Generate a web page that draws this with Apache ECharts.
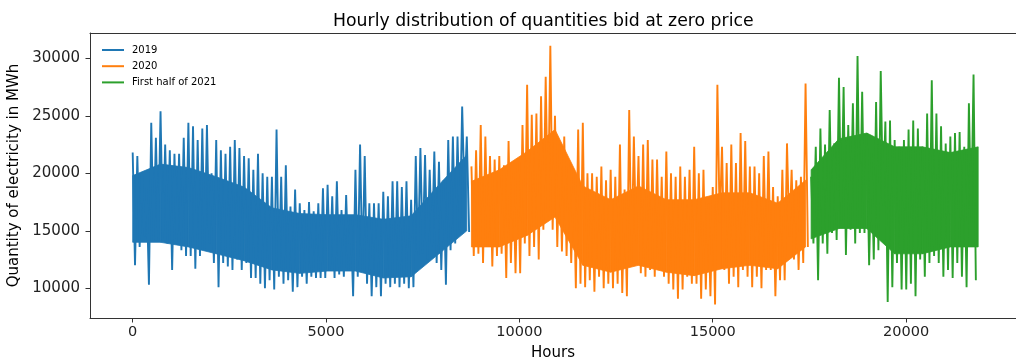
<!DOCTYPE html>
<html>
<head>
<meta charset="utf-8">
<script src="https://cdn.jsdelivr.net/npm/echarts@6/dist/echarts.min.js"></script>
<style>
html,body{margin:0;padding:0;background:#fff;}
#chart{width:1016px;height:360px;}
</style>
</head>
<body>
<div id="chart"></div>
<script>
// ---- data ----
// Spikes: per 120-hour column, upper and lower extent of the trace
const STEP_HOURS = 120;
// Dense core: per 720-hour block, lower and upper edge of the solid band
const CORE_STEP_HOURS = 720;
const start2019 = 0;
const start2020 = 8760;
const start2021 = 17544;

const hi2019 = [21800,21500,20000,18800,24400,23100,25400,22500,22000,21700,21700,23100,24400,24100,22900,23900,24200,20000,22900,22000,21700,22300,22900,22200,21500,21300,20300,21700,20000,19700,19700,23800,19700,20700,17100,18600,17400,16800,17500,16700,17400,18700,19000,18000,19300,16800,18100,16200,20300,22500,21500,17400,17400,17400,18400,18000,19300,19300,18800,19300,17700,21500,22200,21600,20300,21900,21000,19400,22900,23200,23200,25800,23200];
const lo2019 = [12000,13600,14500,10300,14200,14200,14200,13900,11600,13900,13300,12800,12800,11700,12800,13300,13900,12200,10100,12200,11900,11600,12500,11600,12200,10900,10900,10400,10000,10700,9900,11000,10400,10700,9700,10100,11000,10400,11000,10900,10900,10900,11600,10900,11200,11000,11600,9300,11000,11600,10400,9300,10100,9300,10400,10100,10400,10100,10400,10000,10100,12800,13000,12500,13600,12200,11600,10300,13300,13900,15100,18000,14900];
const coreLo2019 = [14000,14000,13600,13000,12400,11600,11300,11500,11500,10900,11000,13000,15000];
const coreHi2019 = [19800,20800,20500,19700,18800,17000,16500,16400,16400,16000,16300,19000,21600];

const hi2020 = [20600,22000,24200,23200,21500,21200,21500,20700,22800,20200,20900,24200,27700,25100,25200,26700,28400,31100,25000,22500,23200,20900,20300,23800,24400,20000,20000,19700,20600,19400,20300,19700,22500,18600,25500,23200,21500,22500,22900,21200,21200,19700,21900,20000,19700,20600,19700,20300,22300,20000,20300,17400,18800,27700,22300,20900,22500,20900,23500,22800,20600,20600,20000,21500,21900,18800,18000,20300,22600,20300,19400,19700,27800];
const lo2020 = [12800,13000,12200,13600,11900,12800,13000,10900,12200,11300,11300,13900,12800,13600,12500,15100,16200,15100,13600,13200,12800,12200,10000,10400,10100,10700,9700,11000,10000,10400,10000,10400,9600,9300,12200,13900,11300,11000,11600,11000,11700,11000,10400,9900,9100,9900,11000,10400,10400,9100,9900,9300,8600,15700,11600,10400,11000,10100,11600,11000,10100,11000,10000,11600,11600,9300,10700,10700,14500,12500,11600,12200,13600];
const coreLo2020 = [13600,13600,14600,16200,12000,11400,12000,11400,11100,11700,12000,11700,13600];
const coreHi2020 = [19300,20300,21900,23800,18900,17700,18900,17700,17700,18300,18300,17400,19400];

const hi2021 = [19700,22300,23900,22500,25500,22600,28300,27500,24200,26100,30200,27100,23500,21700,26200,28900,24500,24600,22900,22300,22900,23800,24600,23900,22300,25200,28100,25200,24100,22600,23200,23500,23600,22300,26100,28600];
const lo2021 = [13900,10700,13900,13000,14800,14200,15900,12900,15100,13900,14800,14800,12000,12500,13300,17100,8800,10100,12200,9900,9900,10400,9300,12500,11000,12200,12800,12200,11000,11600,10900,12200,11000,10100,15700,10700];
const coreLo2021 = [14300,15200,15200,13000,13000,13600,13600];
const coreHi2021 = [20300,23000,23500,22300,22300,21800,22300];

const seriesNames = ['2019', '2020', 'First half of 2021'];
const xTicks = [0, 5000, 10000, 15000, 20000];
const yTicks = [10000, 15000, 20000, 25000, 30000];

// ---- build points ----
function toPoints(start, hi, lo) {
  const pts = [];
  for (let i = 0; i < hi.length; i++) {
    pts.push([start + i * STEP_HOURS, hi[i]]);
    pts.push([start + i * STEP_HOURS + STEP_HOURS / 2, lo[i]]);
  }
  return pts;
}
function coreRows(start, lo, hi) {
  return lo.map((v, i) => [start + i * CORE_STEP_HOURS, v, hi[i]]);
}

const colors = ['#1f77b4', '#ff7f0e', '#2ca02c'];
const FONT = 'DejaVu Sans';
const axisColor = '#333';
const plain = v => String(v);

const chart = echarts.init(document.getElementById('chart'), null, {renderer: 'canvas'});

function mkLine(name, data, color) {
  return {
    name: name, type: 'line', data: data, showSymbol: false, symbol: 'none',
    sampling: false, animation: false, silent: true, z: 3,
    lineStyle: {color: color, width: 1.9},
    itemStyle: {color: color}
  };
}
function mkCore(key, rows, color) {
  return {
    name: key, type: 'custom', data: rows, animation: false, silent: true, z: 2,
    encode: {x: 0, y: [1, 2]},
    renderItem: function (params, api) {
      const i = params.dataIndexInside;
      if (i >= params.dataInsideLength - 1) return null;
      const a0 = api.coord([api.value(0, i), api.value(1, i)]);
      const a1 = api.coord([api.value(0, i), api.value(2, i)]);
      const b1 = api.coord([api.value(0, i + 1), api.value(2, i + 1)]);
      const b0 = api.coord([api.value(0, i + 1), api.value(1, i + 1)]);
      return {
        type: 'polygon',
        shape: {points: [a0, a1, b1, b0]},
        style: {fill: color, stroke: color, lineWidth: 0.8}
      };
    }
  };
}

chart.setOption({
  animation: false,
  backgroundColor: '#fff',
  textStyle: {fontFamily: FONT},
  title: {
    text: 'Hourly distribution of quantities bid at zero price',
    left: 328, top: 8,
    textStyle: {fontFamily: FONT, fontSize: 17.3, fontWeight: 'normal', color: '#000'}
  },
  legend: {
    orient: 'vertical', left: 97, top: 39,
    itemWidth: 22, itemHeight: 2, itemGap: 4.2,
    icon: 'rect',
    data: seriesNames,
    textStyle: {fontFamily: FONT, fontSize: 10, color: '#000', lineHeight: 12, padding: [0, 0, 0, 3]}
  },
  grid: {left: 90, right: 0, top: 33, bottom: 42, containLabel: false, outerBoundsMode: 'none'},
  xAxis: [{
    type: 'value', min: -1104, max: 22842, position: 'bottom',
    name: 'Hours', nameLocation: 'middle', nameGap: 28,
    nameTextStyle: {fontFamily: FONT, fontSize: 15, color: '#000'},
    axisLine: {show: true, onZero: false, lineStyle: {color: axisColor, width: 1}},
    axisTick: {show: true, length: 4.5, customValues: xTicks, lineStyle: {color: axisColor}},
    axisLabel: {customValues: xTicks, formatter: plain, margin: 7, fontFamily: FONT, fontSize: 14.5, color: '#222'},
    splitLine: {show: false}
  }, {
    type: 'value', min: -1104, max: 22842, position: 'top',
    axisLine: {show: true, onZero: false, lineStyle: {color: axisColor, width: 1}},
    axisTick: {show: false}, axisLabel: {show: false}, splitLine: {show: false}
  }],
  yAxis: {
    type: 'value', min: 7417, max: 32200,
    name: 'Quantity of electricity in MWh', nameLocation: 'middle', nameGap: 64, nameRotate: 90,
    nameTextStyle: {fontFamily: FONT, fontSize: 15, color: '#000'},
    axisLine: {show: true, onZero: false, lineStyle: {color: axisColor, width: 1}},
    axisTick: {show: true, length: 4.5, customValues: yTicks, lineStyle: {color: axisColor}},
    axisLabel: {customValues: yTicks, formatter: plain, margin: 10, fontFamily: FONT, fontSize: 15, color: '#222'},
    splitLine: {show: false}
  },
  series: [
    mkCore('2019 core', coreRows(start2019, coreLo2019, coreHi2019), colors[0]),
    mkCore('2020 core', coreRows(start2020, coreLo2020, coreHi2020), colors[1]),
    mkCore('2021 core', coreRows(start2021, coreLo2021, coreHi2021), colors[2]),
    mkLine(seriesNames[0], toPoints(start2019, hi2019, lo2019), colors[0]),
    mkLine(seriesNames[1], toPoints(start2020, hi2020, lo2020), colors[1]),
    mkLine(seriesNames[2], toPoints(start2021, hi2021, lo2021), colors[2])
  ]
});
</script>
</body>
</html>
